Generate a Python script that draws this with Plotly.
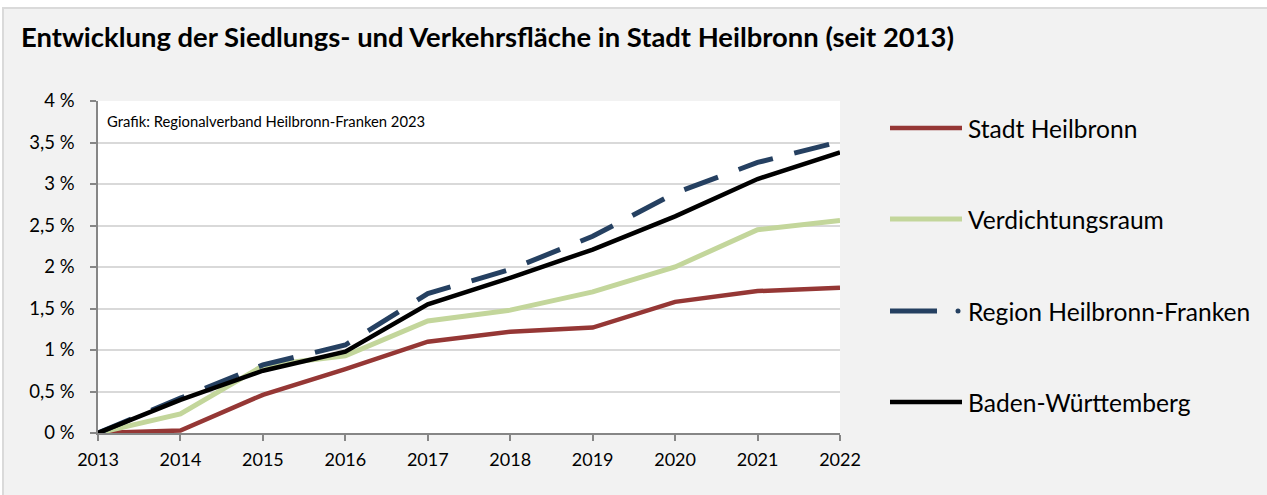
import plotly.graph_objects as go

# Jahre und kumulierte Zunahme der Siedlungs- und Verkehrsfläche (in %)
jahre = [2013, 2014, 2015, 2016, 2017, 2018, 2019, 2020, 2021, 2022]
stadt_heilbronn = [0.0, 0.03, 0.46, 0.77, 1.10, 1.22, 1.27, 1.58, 1.71, 1.75]
verdichtungsraum = [0.0, 0.23, 0.81, 0.93, 1.35, 1.48, 1.70, 2.00, 2.45, 2.56]
region_hn_franken = [0.0, 0.42, 0.82, 1.06, 1.68, 1.97, 2.37, 2.89, 3.26, 3.51]
baden_wuerttemberg = [0.0, 0.40, 0.75, 0.98, 1.55, 1.87, 2.21, 2.61, 3.06, 3.38]

y_ticks = [0, 0.5, 1, 1.5, 2, 2.5, 3, 3.5, 4]
y_labels = ["0 %", "0,5 %", "1 %", "1,5 %", "2 %", "2,5 %", "3 %", "3,5 %", "4 %"]

serien = [
    ("Stadt Heilbronn", stadt_heilbronn, "#953735", 4.5, "solid"),
    ("Verdichtungsraum", verdichtungsraum, "#c3d69b", 5, "solid"),
    ("Region Heilbronn-Franken", region_hn_franken, "#254061", 5, "36px,22px"),
    ("Baden-Württemberg", baden_wuerttemberg, "#000000", 4.5, "solid"),
]

FONT = "Lato"
fig = go.Figure()
for name, werte, farbe, breite, dash in serien:
    fig.add_trace(go.Scatter(
        x=jahre, y=werte, name=name, mode="lines",
        line=dict(color=farbe, width=breite, dash=dash),
        showlegend=False, cliponaxis=False,
    ))

# Pixelgeometrie der Seite und des Plotbereichs
W, H = 1267, 495
L, R, T, B = 98, 427, 101, 62
pw, ph = W - L - R, H - T - B

def px_x(x):
    return (x - L) / pw

def px_y(y):
    return (H - B - y) / ph

# heller Rand oben und links mit feiner Rahmenlinie
fig.add_shape(type="rect", xref="paper", yref="paper",
              x0=px_x(0), x1=px_x(W), y0=px_y(7), y1=px_y(0),
              fillcolor="#ffffff", line=dict(width=0))
fig.add_shape(type="rect", xref="paper", yref="paper",
              x0=px_x(0), x1=px_x(2), y0=px_y(H), y1=px_y(0),
              fillcolor="#ffffff", line=dict(width=0))
fig.add_shape(type="line", xref="paper", yref="paper",
              x0=px_x(2), x1=px_x(W), y0=px_y(8), y1=px_y(8),
              line=dict(color="#dadada", width=2))
fig.add_shape(type="line", xref="paper", yref="paper",
              x0=px_x(3), x1=px_x(3), y0=px_y(8), y1=px_y(H),
              line=dict(color="#dadada", width=2))

# Legende rechts neben dem Diagramm
leg_y = [128, 219, 311, 402]
for (name, _, farbe, breite, dash), yy in zip(serien, leg_y):
    if dash == "solid":
        fig.add_shape(type="line", xref="paper", yref="paper",
                      x0=px_x(890), x1=px_x(962), y0=px_y(yy), y1=px_y(yy),
                      line=dict(color=farbe, width=breite))
    else:
        fig.add_shape(type="line", xref="paper", yref="paper",
                      x0=px_x(890), x1=px_x(937), y0=px_y(yy), y1=px_y(yy),
                      line=dict(color=farbe, width=breite))
        fig.add_shape(type="circle", xref="paper", yref="paper",
                      x0=px_x(955.5), x1=px_x(960.5), y0=px_y(yy - 2.5), y1=px_y(yy + 2.5),
                      fillcolor=farbe, line=dict(width=0))
    fig.add_annotation(xref="paper", yref="paper", x=px_x(966), y=px_y(yy),
                       xanchor="left", yanchor="middle", showarrow=False,
                       text=name, font=dict(family=FONT, size=24.6, color="#000000"))

fig.add_annotation(xref="paper", yref="paper", x=px_x(105), y=px_y(121),
                   xanchor="left", yanchor="middle", showarrow=False,
                   text="Grafik: Regionalverband Heilbronn-Franken 2023",
                   font=dict(family=FONT, size=14.8, color="#000000"))

fig.update_layout(
    width=W, height=H,
    margin=dict(l=L, r=R, t=T, b=B),
    paper_bgcolor="#f2f2f2",
    plot_bgcolor="#ffffff",
    font=dict(family=FONT, size=18, color="#000000"),
    title=dict(text="<b>Entwicklung der Siedlungs- und Verkehrsfläche in Stadt Heilbronn (seit 2013)</b>",
               x=21 / W, xanchor="left", y=1 - 37 / H, yanchor="middle",
               font=dict(family=FONT, size=27.4, color="#000000")),
    xaxis=dict(range=[2013, 2022], tickvals=jahre, ticktext=[str(j) for j in jahre],
               showgrid=False, zeroline=False, showline=True, linecolor="#868686", linewidth=1.5,
               ticks="outside", ticklen=6, tickcolor="#868686", tickwidth=1.5,
               tickfont=dict(size=18), ticklabelstandoff=4),
    yaxis=dict(range=[0, 4], tickvals=y_ticks, ticktext=y_labels,
               showgrid=True, gridcolor="#d9d9d9", gridwidth=2, zeroline=False,
               showline=True, linecolor="#868686", linewidth=1.5,
               ticks="outside", ticklen=6, tickcolor="#868686", tickwidth=1.5,
               tickfont=dict(size=18.5), ticklabelstandoff=12),
)

fig.write_html("out.html")
